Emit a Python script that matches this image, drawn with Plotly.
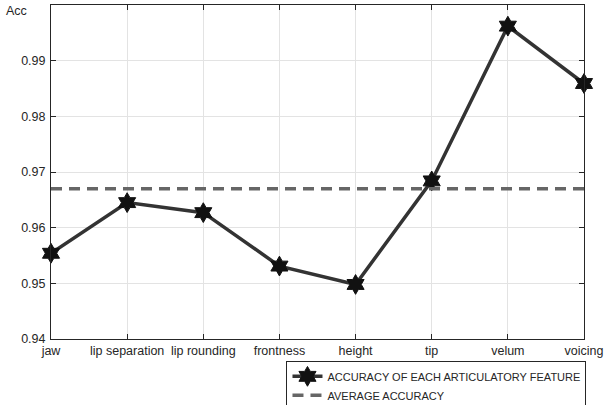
import plotly.graph_objects as go

categories = ["jaw", "lip separation", "lip rounding", "frontness", "height", "tip", "velum", "voicing"]
accuracy = [0.9554, 0.9645, 0.9627, 0.9531, 0.9498, 0.9684, 0.9962, 0.9859]
average_accuracy = 0.9670
y_ticks = [0.94, 0.95, 0.96, 0.97, 0.98, 0.99, 1.0]
y_tick_labels = ["0.94", "0.95", "0.96", "0.97", "0.98", "0.99", "1"]

xs = list(range(len(categories)))

fig = go.Figure()
fig.add_trace(go.Scatter(
    x=xs, y=accuracy, mode="lines+markers",
    name="ACCURACY OF EACH ARTICULATORY FEATURE",
    line=dict(color="#333333", width=3.5),
    marker=dict(symbol="hexagram", size=15, color="#111111",
                line=dict(color="#111111", width=1)),
    cliponaxis=False,
))
fig.add_trace(go.Scatter(
    x=[xs[0], xs[-1]], y=[average_accuracy, average_accuracy], mode="lines",
    name="AVERAGE ACCURACY",
    line=dict(color="#666666", width=3.5, dash="11px,7px"),
))

axis_common = dict(
    showline=True, linecolor="#262626", linewidth=1, mirror="ticks",
    ticks="inside", ticklen=5, tickcolor="#262626",
    showgrid=True, gridcolor="#e3e3e3", gridwidth=1, zeroline=False,
    automargin=False,
    tickfont=dict(family="Liberation Sans, Arial", size=12.5, color="#262626"),
)

fig.update_layout(
    width=604, height=405,
    margin=dict(l=51, r=20, t=5, b=66, autoexpand=False),
    paper_bgcolor="white", plot_bgcolor="white",
    showlegend=True,
    legend=dict(
        xref="container", yref="container",
        x=0.971, xanchor="right", y=0.109, yanchor="top",
        bordercolor="#262626", borderwidth=1, bgcolor="white",
        font=dict(family="Liberation Sans, Arial", size=11, color="#262626"),
        tracegroupgap=0, itemwidth=30,
    ),
    xaxis=dict(range=[xs[0], xs[-1]], tickmode="array", tickvals=xs,
               ticktext=categories, **axis_common),
    yaxis=dict(range=[0.94, 1.0], tickmode="array", tickvals=y_ticks,
               ticktext=y_tick_labels, ticklabelstandoff=2, **axis_common),
    annotations=[dict(text="Acc", xref="paper", yref="paper", x=-0.041, y=0.983,
                      xanchor="right", yanchor="middle", showarrow=False,
                      font=dict(family="Liberation Sans, Arial", size=12.5, color="#262626"))],
)

fig.write_html("out.html", config={"displayModeBar": False},
               post_script="document.body.style.margin='0';document.body.style.overflow='hidden';")
